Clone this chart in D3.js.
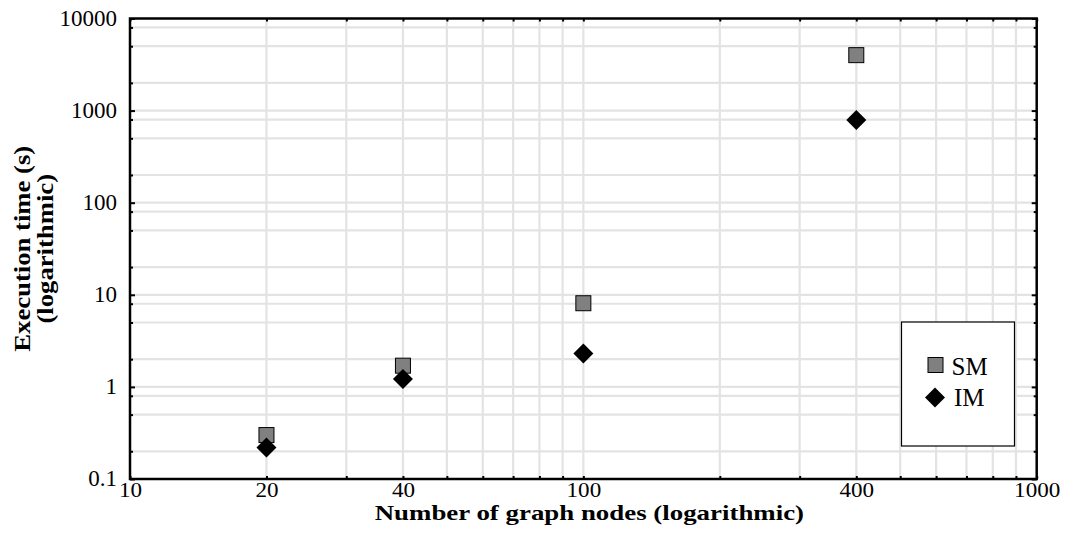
<!DOCTYPE html>
<html>
<head>
<meta charset="utf-8">
<script src="https://cdn.jsdelivr.net/npm/d3@7"></script>
<style>
  body { margin: 0; background: #fff; }
  svg { display: block; font-family: "Liberation Serif", "Times New Roman", serif; }
</style>
</head>
<body>
<div id="chart"></div>
<script>
//------------------------------------------------------------------------ Data
var nodes = [20, 40, 100, 400];
var smTimes = [0.3, 1.7, 8.1, 4000];
var imTimes = [0.22, 1.22, 2.3, 790];
var xTickLabels = [10, 20, 40, 100, 400, 1000];
var yTickLabels = [0.1, 1, 10, 100, 1000, 10000];
var xGridSteps = [2, 3, 4, 5, 6, 7, 8, 9, 10];   // per decade
var yGridSteps = [1, 2, 5, 8];                   // per decade
var seriesNames = ["SM", "IM"];

//------------------------------------------------------------------------ Layout
var W = 1066, H = 533;
var margin = {top: 18.5, right: 29.3, bottom: 54, left: 130},
    width = W - margin.left - margin.right,
    height = H - margin.top - margin.bottom;

var svg = d3.select("#chart").append("svg")
  .attr("width", W)
  .attr("height", H);

var g = svg.append("g").attr("transform", "translate(" + margin.left + "," + margin.top + ")");

var x = d3.scaleLog().domain([10, 1000]).range([0, width]);
var y = d3.scaleLog().domain([0.1, 10000]).range([height, 0]);

// grid values
var xGrid = [];
[10, 100].forEach(function(dec){ xGridSteps.forEach(function(s){ xGrid.push(dec * s); }); });
xGrid = xGrid.filter(function(v){ return v < 1000; });
var yGrid = [];
[0.1, 1, 10, 100, 1000].forEach(function(dec){
  yGridSteps.forEach(function(s){ yGrid.push(+(dec * s).toPrecision(3)); });
});
yGrid = yGrid.filter(function(v){ return v > 0.1; });

//------------------------------------------------------------------------ Grid
g.append("g").selectAll("line").data(xGrid).enter().append("line")
  .attr("x1", function(d){ return x(d); }).attr("x2", function(d){ return x(d); })
  .attr("y1", 0).attr("y2", height)
  .attr("stroke", "#e3e3e3").attr("stroke-width", 2.2);

g.append("g").selectAll("line").data(yGrid).enter().append("line")
  .attr("y1", function(d){ return y(d); }).attr("y2", function(d){ return y(d); })
  .attr("x1", 0).attr("x2", width)
  .attr("stroke", "#e3e3e3").attr("stroke-width", 2.2);

//------------------------------------------------------------------------ Axes
var xTicks = [10].concat(xGrid).concat([1000]);
var yTicks = [0.1].concat(yGrid).concat([10000]);
function isDecade(d){ return yTickLabels.indexOf(d) >= 0; }

var fontTick = 22;

var xAxis = g.append("g").attr("transform", "translate(0," + height + ")")
  .call(d3.axisBottom(x).tickValues(xTicks).tickSizeInner(-3).tickSizeOuter(0).tickPadding(2)
    .tickFormat(function(d){ return xTickLabels.indexOf(d) >= 0 ? d : ""; }));
var xAxisTop = g.append("g")
  .call(d3.axisTop(x).tickValues(xTicks).tickSizeInner(-3).tickSizeOuter(0).tickFormat(""));
var yAxis = g.append("g")
  .call(d3.axisLeft(y).tickValues(yTicks).tickSizeInner(-3).tickSizeOuter(0).tickPadding(13)
    .tickFormat(function(d){ return yTickLabels.indexOf(d) >= 0 ? d : ""; }));
var yAxisRight = g.append("g").attr("transform", "translate(" + width + ",0)")
  .call(d3.axisRight(y).tickValues(yTicks).tickSizeInner(-3).tickSizeOuter(0).tickFormat(""));

[xAxis, xAxisTop, yAxis, yAxisRight].forEach(function(a){
  a.select(".domain").remove();
  a.selectAll(".tick line").attr("stroke", "#000").attr("stroke-width", 2);
  a.selectAll(".tick text").attr("fill", "#000").attr("font-size", fontTick)
    .attr("font-family", "Liberation Serif").attr("transform", "scale(1.05,1)");
});
// decade ticks slightly longer
yAxis.selectAll(".tick line").filter(isDecade).attr("x2", 5);
yAxisRight.selectAll(".tick line").filter(isDecade).attr("x2", -5);
yAxis.selectAll(".tick text").attr("dy", "0.3em").attr("transform", null).attr("font-size", 23);

// frame
g.append("rect")
  .attr("x", 0).attr("y", 0).attr("width", width).attr("height", height)
  .attr("fill", "none").attr("stroke", "#000").attr("stroke-width", 2.5);

//------------------------------------------------------------------------ Points
var sq = 15;
function diamondPath(r){ return "M0," + (-r) + "L" + r + ",0L0," + r + "L" + (-r) + ",0Z"; }

g.append("g").selectAll("rect").data(nodes).enter().append("rect")
  .attr("x", function(d){ return x(d) - sq / 2; })
  .attr("y", function(d, i){ return y(smTimes[i]) - sq / 2; })
  .attr("width", sq).attr("height", sq)
  .attr("fill", "#808080").attr("stroke", "#000").attr("stroke-width", 1);

g.append("g").selectAll("path").data(nodes).enter().append("path")
  .attr("transform", function(d, i){ return "translate(" + x(d) + "," + y(imTimes[i]) + ")"; })
  .attr("d", diamondPath(10))
  .attr("fill", "#000");

//------------------------------------------------------------------------ Legend
var legend = svg.append("g").attr("transform", "translate(901.5,322)");
legend.append("rect").attr("width", 113).attr("height", 124)
  .attr("fill", "#fff").attr("stroke", "#000").attr("stroke-width", 1.2);
legend.append("rect").attr("x", 26.5).attr("y", 35.5).attr("width", 15).attr("height", 15)
  .attr("fill", "#808080").attr("stroke", "#000").attr("stroke-width", 1);
legend.append("path").attr("transform", "translate(33.5,75.5)").attr("d", diamondPath(10)).attr("fill", "#000");
legend.selectAll("text.lab").data(seriesNames).enter().append("text")
  .attr("class", "lab")
  .attr("x", function(d, i){ return i === 0 ? 50 : 52.5; })
  .attr("y", function(d, i){ return i === 0 ? 52.5 : 84; })
  .attr("font-size", 25)
  .text(function(d){ return d; });

//------------------------------------------------------------------------ Axis titles
svg.append("text")
  .attr("transform", "translate(" + (margin.left + width / 2 + 6) + ",520) scale(1.28,1)")
  .attr("text-anchor", "middle").attr("font-weight", "bold").attr("font-size", 21)
  .text("Number of graph nodes (logarithmic)");

var yLabelLines = ["Execution time (s)", "(logarithmic)"];
yLabelLines.forEach(function(t, i){
  svg.append("text")
    .attr("transform", "translate(" + (29.5 + i * 23.5) + "," + (margin.top + height / 2) + ") rotate(-90) scale(1.16,1)")
    .attr("text-anchor", "middle").attr("font-weight", "bold").attr("font-size", 23)
    .text(t);
});
</script>
</body>
</html>
